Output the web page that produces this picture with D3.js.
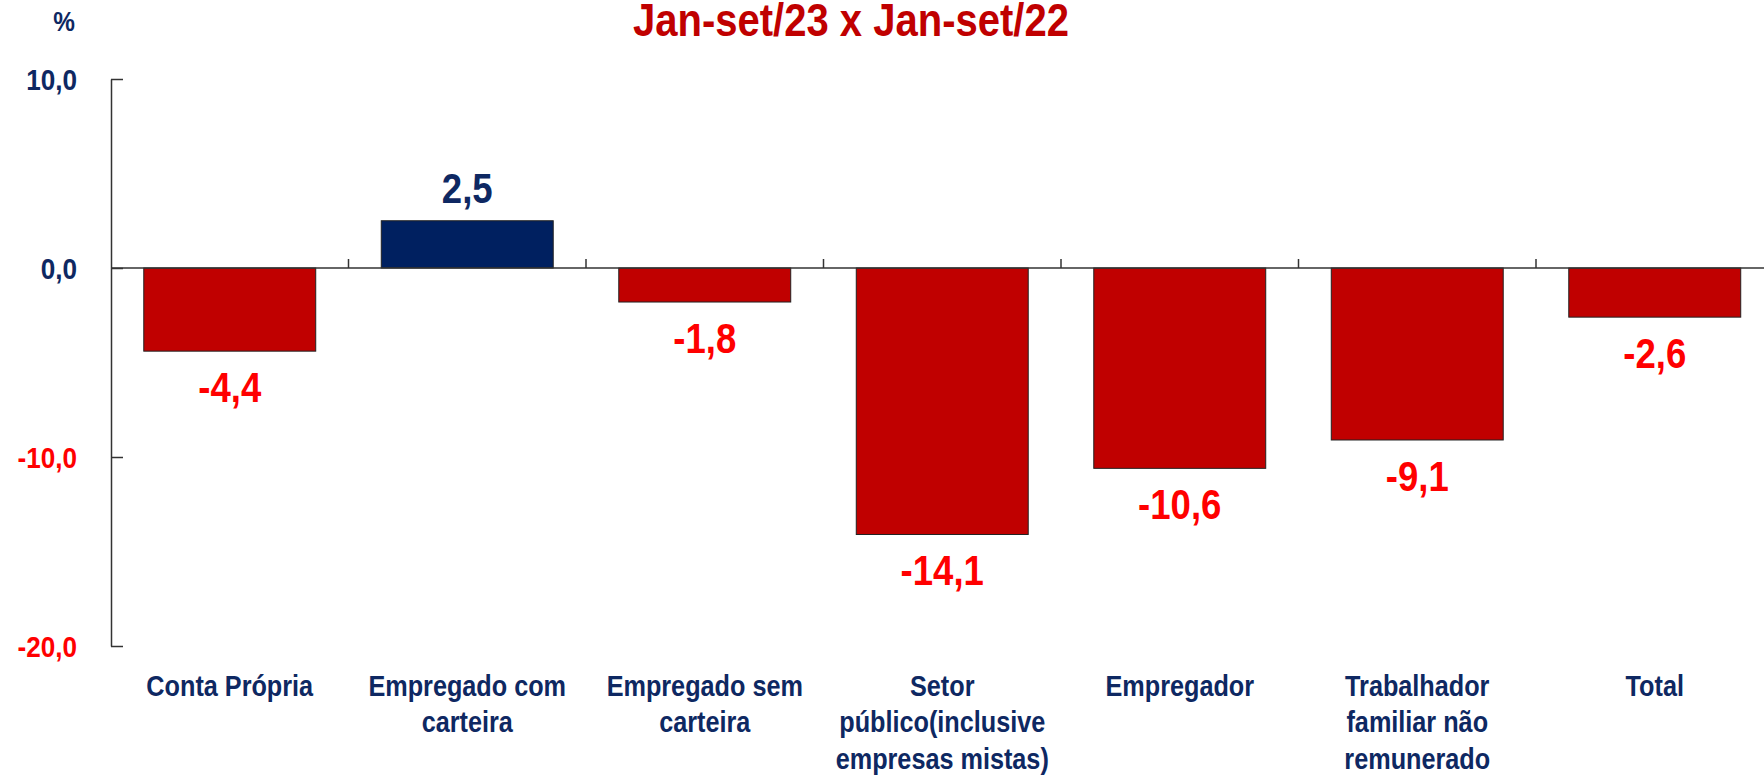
<!DOCTYPE html>
<html>
<head>
<meta charset="utf-8">
<script src="https://cdn.jsdelivr.net/npm/d3@7"></script>
<style>
    body { margin: 0; background: #fff; }
    text { font-family: "Liberation Sans", Arial, sans-serif; font-weight: bold; }
</style>
</head>
<body>
<div id="grafico"></div>
<script>
// Dados do gráfico
const categorias = ["Conta Própria", "Empregado com carteira", "Empregado sem carteira",
    "Setor público(inclusive empresas mistas)", "Empregador", "Trabalhador familiar não remunerado", "Total"];
const rotulos = [
    ["Conta Própria"],
    ["Empregado com", "carteira"],
    ["Empregado sem", "carteira"],
    ["Setor", "público(inclusive", "empresas mistas)"],
    ["Empregador"],
    ["Trabalhador", "familiar não", "remunerado"],
    ["Total"]
];
const valores = [-4.4, 2.5, -1.8, -14.1, -10.6, -9.1, -2.6];
const ticksY = [10, 0, -10, -20];
const titulo = "Jan-set/23 x Jan-set/22";
const unidade = "%";

const width = 1764;
const height = 776;
const estreito = 0.87; // fonte comprimida na horizontal

const azul = "#002060";
const azulTexto = "#0e2862";
const vermelhoBarra = "#c00000";
const vermelhoTexto = "#ff0000";

const locale = d3.formatLocale({ decimal: ",", thousands: ".", grouping: [3], currency: ["R$", ""], minus: "-" });
const fmt = locale.format(".1f");

const svg = d3.select("#grafico")
    .append("svg")
    .attr("width", width)
    .attr("height", height);

// Escalas
const passo = 237.5;
const x = d3.scaleBand()
    .domain(categorias)
    .range([111, 111 + passo * categorias.length])
    .paddingInner(0.276)
    .paddingOuter(0.138);

const y = d3.scaleLinear()
    .domain([-20, 10])
    .range([646, 79]);

// Título
svg.append("g")
    .attr("transform", "translate(851,36)")
    .append("text")
    .attr("transform", `scale(${estreito},1)`)
    .attr("text-anchor", "middle")
    .style("font-size", "46px")
    .attr("fill", vermelhoBarra)
    .text(titulo);

// Unidade
svg.append("g")
    .attr("transform", "translate(75,31)")
    .append("text")
    .attr("transform", `scale(${estreito},1)`)
    .attr("text-anchor", "end")
    .style("font-size", "28px")
    .attr("fill", azulTexto)
    .text(unidade);

// Barras
svg.selectAll(".barra")
    .data(valores)
    .enter()
    .append("rect")
    .attr("class", "barra")
    .attr("x", (d, i) => x(categorias[i]))
    .attr("width", x.bandwidth())
    .attr("y", d => y(Math.max(0, d)))
    .attr("height", d => Math.abs(y(d) - y(0)))
    .attr("fill", d => d >= 0 ? azul : vermelhoBarra)
    .attr("stroke", "#222")
    .attr("stroke-width", 1);

// Linha do zero
svg.append("line")
    .attr("x1", 111)
    .attr("x2", width)
    .attr("y1", y(0))
    .attr("y2", y(0))
    .attr("stroke", "#333")
    .attr("stroke-width", 1.5);

// Marcas entre categorias (para cima)
const step = x.step();
svg.selectAll(".marca")
    .data(categorias.slice(1))
    .enter()
    .append("line")
    .attr("class", "marca")
    .attr("x1", d => x(d) - step * x.paddingInner() / 2)
    .attr("x2", d => x(d) - step * x.paddingInner() / 2)
    .attr("y1", y(0))
    .attr("y2", y(0) - 9)
    .attr("stroke", "#333")
    .attr("stroke-width", 1.5);

// Eixo Y
const eixoY = svg.append("g")
    .attr("transform", "translate(111,0)")
    .call(d3.axisLeft(y)
        .tickValues(ticksY)
        .tickSize(-12)
        .tickSizeOuter(0)
        .tickFormat(fmt));

eixoY.select(".domain").attr("stroke", "#333").attr("stroke-width", 1.5);
eixoY.selectAll(".tick line").attr("stroke", "#333").attr("stroke-width", 1.5);
eixoY.selectAll(".tick text")
    .attr("transform", `scale(${estreito},1)`)
    .attr("x", -34 / estreito)
    .attr("dy", "0.36em")
    .style("font-size", "30px")
    .style("font-family", "'Liberation Sans', Arial, sans-serif")
    .style("font-weight", "bold")
    .attr("fill", d => d >= 0 ? azulTexto : vermelhoTexto);

// Rótulos de valor
svg.selectAll(".valor")
    .data(valores)
    .enter()
    .append("g")
    .attr("class", "valor")
    .attr("transform", (d, i) => {
        const cx = x(categorias[i]) + x.bandwidth() / 2;
        const cy = d >= 0 ? y(d) - 18 : y(d) + 51;
        return `translate(${cx},${cy})`;
    })
    .append("text")
    .attr("transform", `scale(${estreito},1)`)
    .attr("text-anchor", "middle")
    .style("font-size", "42px")
    .attr("fill", d => d >= 0 ? azulTexto : vermelhoTexto)
    .text(d => fmt(d));

// Rótulos das categorias
const rotulo = svg.selectAll(".categoria")
    .data(categorias)
    .enter()
    .append("g")
    .attr("class", "categoria")
    .attr("transform", d => `translate(${x(d) + x.bandwidth() / 2},696)`)
    .append("text")
    .attr("transform", `scale(${estreito},1)`)
    .attr("text-anchor", "middle")
    .style("font-size", "29px")
    .attr("fill", azulTexto);

rotulo.selectAll("tspan")
    .data((d, i) => rotulos[i])
    .enter()
    .append("tspan")
    .attr("x", 0)
    .attr("dy", (d, i) => i === 0 ? 0 : 36.5)
    .text(d => d);
</script>
</body>
</html>
